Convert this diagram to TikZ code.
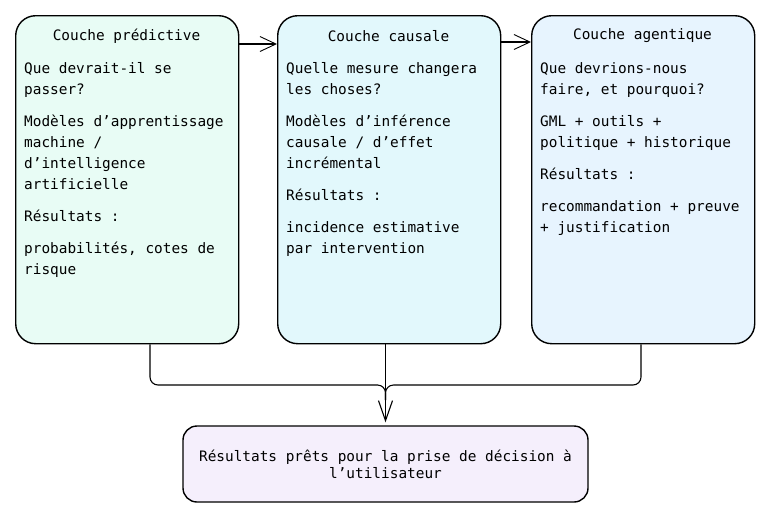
\documentclass[tikz,border=0pt]{standalone}
\usepackage{fontspec}
\setmonofont{DejaVu Sans Mono}
\usetikzlibrary{arrows.meta}
\definecolor{menthe}{HTML}{E8FCF5}
\definecolor{cyanpale}{HTML}{E2F8FC}
\definecolor{bleupale}{HTML}{E7F4FE}
\definecolor{lavande}{HTML}{F5EFFC}
\newcommand{\police}{\ttfamily\fontsize{14.4}{21}\selectfont}

\begin{document}
\begin{tikzpicture}[x=1pt,y=-1pt,
  couche/.style={draw,line width=1.4pt,rounded corners=20pt,
    minimum width=223pt,minimum height=328pt,anchor=north west,inner sep=0pt},
  titre/.style={font=\police,inner sep=0pt},
  corps/.style={font=\police,align=left,anchor=north west,inner sep=0pt},
  fleche/.style={-{Straight Barb[length=16pt,width=15pt,line width=0.9pt]},line width=1.1pt}]
  \useasboundingbox (0,0) rectangle (767,520);
  % les trois couches
  \node[couche,fill=menthe]   (pred) at (15,15)  {};
  \node[couche,fill=cyanpale] (caus) at (277,15) {};
  \node[couche,fill=bleupale] (agen) at (531,15) {};
  \node[titre] (tpred) at (126.5,36) {Couche prédictive};
  \node[titre] (tcaus) at (388.5,36) {Couche causale};
  \node[titre] (tagen) at (642.5,36) {Couche agentique};
  \node[corps] (cpred) at (24,62) {Que devrait-il se\\passer?\\[11pt]
    Modèles d’apprentissage\\machine /\\d’intelligence\\artificielle\\[11pt]
    Résultats :\\[11pt]probabilités, cotes de\\risque};
  \node[corps] (ccaus) at (286,62) {Quelle mesure changera\\les choses?\\[11pt]
    Modèles d’inférence\\causale / d’effet\\incrémental\\[11pt]
    Résultats :\\[11pt]incidence estimative\\par intervention};
  \node[corps] (cagen) at (540,62) {Que devrions-nous\\faire, et pourquoi?\\[11pt]
    GML + outils +\\politique + historique\\[11pt]
    Résultats :\\[11pt]recommandation + preuve\\+ justification};
  % sortie
  \node[draw,line width=1.4pt,rounded corners=14pt,fill=lavande,
    minimum width=405pt,minimum height=76pt,align=center,font=\police]
    (fin) at (385.5,464) {\raisebox{-2pt}{Résultats prêts pour la prise de décision à}\\[-2pt]l’utilisateur};
  % liaisons
  \draw[fleche] (pred.east |- 0,44) -- (caus.west |- 0,44);
  \draw[fleche] (caus.east |- 0,42) -- (agen.west |- 0,42);
  \draw[-{Straight Barb[length=20pt,width=14pt,line width=1.1pt]},line width=1.1pt]
    (caus.south -| fin.north) -- ([yshift=3pt]fin.north);
  \draw[line width=1.1pt,rounded corners=8pt]
    (pred.south -| 150,0) -- (150,385) -- (fin.north |- 0,385) -- (fin.north |- 0,400);
  \draw[line width=1.1pt,rounded corners=8pt]
    (agen.south -| 641,0) -- (641,385) -- (fin.north |- 0,385) -- (fin.north |- 0,400);
\end{tikzpicture}
\end{document}
